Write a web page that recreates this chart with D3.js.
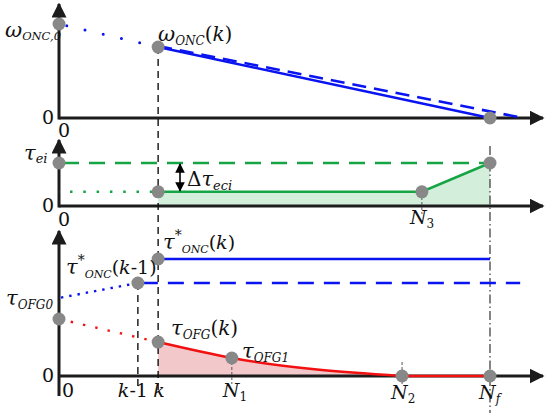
<!DOCTYPE html>
<html><head><meta charset="utf-8">
<script src="https://cdn.jsdelivr.net/npm/d3@7"></script>
<style>
html,body{margin:0;padding:0;background:#fff;}
svg text, svg tspan{font-family:"DejaVu Serif","Liberation Serif","Noto Serif",Georgia,serif;}
</style></head>
<body><svg id="c" width="550" height="413"></svg>
<script>
// ---- data (abstract units: time 0..100 = 0..N_f, values 0..100 per panel) ----
const tK1 = 18.3, tK = 23, tN1 = 40.1, tN2 = 79.6, tN3 = 84.2, tNf = 100;
const xTickLabels = ["0", "k-1", "k", "N1", "N2", "Nf"];
const xTickValues = [0, tK1, tK, tN1, tN2, tNf];

// top panel: omega_ONC
const omegaDotted = [[0, 100], [tK, 75.5]];
const omegaSolid  = [[tK, 75.5], [tNf, 0]];
const omegaDashed = [[tK, 76.6], [107.7, 0]];
const omegaPoints = [[0, 100], [tK, 75.5], [tNf, 0]];

// middle panel: tau_ei / tau_eci
const tauEiDashed  = [[0, 100], [tNf, 100]];
const tauEciDotted = [[0, 33], [tK, 33]];
const tauEciSolid  = [[tK, 33], [tN3, 33], [tNf, 100]];
const tauPoints    = [[0, 100], [tK, 33], [tN3, 33], [tNf, 100]];

// bottom panel: tau*_ONC and tau_OFG
const oncK      = [[tK, 100], [tNf, 100]];
const oncK1     = [[tK1, 79.5], [107, 79.5]];
const oncDotted = [[0, 66.7], [tK1, 79.5]];
const ofgDotted = [[0, 48.7], [tK, 29]];
const ofgCurve  = [[tK, 29], [tN1, 15.4], [tN2, 0]];
const ofgFlat   = [[tN2, 0], [tNf, 0]];
const bottomPoints = [[tK, 100], [tK1, 79.5], [0, 48.7], [tK, 29], [tN1, 15.4], [tN2, 0], [tNf, 0]];

// ---- scales ----
const svg = d3.select("#c");
const x = d3.scaleLinear().domain([0, 100]).range([59, 490]);
const yTop = d3.scaleLinear().domain([0, 100]).range([118, 24]);
const yMid = d3.scaleLinear().domain([0, 100]).range([206, 163]);
const yBot = d3.scaleLinear().domain([0, 100]).range([376, 259]);
const xEnd = 112.3;

const BLUE = "#0a14f0", GREEN = "#16a544", RED = "#f21010";
const AX = "#1c1c1c";

// arrow markers
const defs = svg.append("defs");
defs.append("marker").attr("id", "arr").attr("viewBox", "0 0 10 10")
  .attr("refX", 9).attr("refY", 5).attr("markerWidth", 5).attr("markerHeight", 5)
  .attr("markerUnits", "strokeWidth").attr("orient", "auto")
  .append("path").attr("d", "M0,0 L10,5 L0,10 Z").attr("fill", AX);
defs.append("marker").attr("id", "arrS").attr("viewBox", "0 0 10 10")
  .attr("refX", 9).attr("refY", 5).attr("markerWidth", 6).attr("markerHeight", 6)
  .attr("markerUnits", "strokeWidth").attr("orient", "auto-start-reverse")
  .append("path").attr("d", "M0,0 L10,5 L0,10 Z").attr("fill", "#000");

const lineGen = ys => d3.line().x(d => x(d[0])).y(d => ys(d[1]));
const lTop = lineGen(yTop), lMid = lineGen(yMid), lBot = lineGen(yBot);

// ---- fills ----
svg.append("path")
  .attr("d", d3.area().x(d => x(d[0])).y0(yMid(0)).y1(d => yMid(d[1]))(tauEciSolid))
  .attr("fill", "#d3eedb");
svg.append("path")
  .attr("d", d3.area().x(d => x(d[0])).y0(yBot(0)).y1(d => yBot(d[1])).curve(d3.curveMonotoneX)(ofgCurve))
  .attr("fill", "#f2c8cb");

// ---- axes ----
function axis(ys, yTopPx, yAxisBottom) {
  svg.append("line").attr("x1", x(0)).attr("x2", x(xEnd)).attr("y1", ys(0)).attr("y2", ys(0))
    .attr("stroke", AX).attr("stroke-width", 3).attr("marker-end", "url(#arr)");
  svg.append("line").attr("x1", x(0)).attr("x2", x(0)).attr("y1", yAxisBottom).attr("y2", yTopPx)
    .attr("stroke", AX).attr("stroke-width", 3).attr("marker-end", "url(#arr)");
}
axis(yTop, 4, yTop(0) + 1.5);
axis(yMid, 140, yMid(0) + 1.5);
axis(yBot, 231, 396);

// ---- vertical guide lines ----
svg.append("line").attr("x1", x(tK)).attr("x2", x(tK)).attr("y1", yTop(75.5)).attr("y2", 390)
  .attr("stroke", "#111").attr("stroke-width", 1.4).attr("stroke-dasharray", "7 5");
svg.append("line").attr("x1", x(tK1)).attr("x2", x(tK1)).attr("y1", yBot(79.5)).attr("y2", 388)
  .attr("stroke", "#111").attr("stroke-width", 1.4).attr("stroke-dasharray", "7 5");
svg.append("line").attr("x1", x(tNf)).attr("x2", x(tNf)).attr("y1", 146).attr("y2", 413)
  .attr("stroke", "#444").attr("stroke-width", 1.3).attr("stroke-dasharray", "9 3 1.5 3");
[[tN3, yMid], [tN1, yBot], [tN2, yBot]].forEach(([t, ys]) => {
  svg.append("line").attr("x1", x(t)).attr("x2", x(t)).attr("y1", ys(0) - 14).attr("y2", ys(0) + 8)
    .attr("stroke", "#555").attr("stroke-width", 1).attr("stroke-dasharray", "3 2");
});

// ---- series lines ----
svg.append("path").attr("d", lTop(omegaDotted)).attr("fill", "none").attr("stroke", BLUE)
  .attr("stroke-width", 3).attr("stroke-linecap", "round").attr("stroke-dasharray", "0 18.7").attr("stroke-dashoffset", 10.7);
svg.append("path").attr("d", lTop(omegaSolid)).attr("fill", "none").attr("stroke", BLUE).attr("stroke-width", 2.6);
svg.append("path").attr("d", lTop(omegaDashed)).attr("fill", "none").attr("stroke", BLUE)
  .attr("stroke-width", 2.6).attr("stroke-dasharray", "14 8");

svg.append("path").attr("d", lMid(tauEiDashed)).attr("fill", "none").attr("stroke", GREEN)
  .attr("stroke-width", 2.6).attr("stroke-dasharray", "16 10").attr("stroke-dashoffset", -4);
svg.append("path").attr("d", lMid(tauEciDotted)).attr("fill", "none").attr("stroke", GREEN)
  .attr("stroke-width", 2.6).attr("stroke-dasharray", "2.5 10.8").attr("stroke-dashoffset", -11);
svg.append("path").attr("d", lMid(tauEciSolid)).attr("fill", "none").attr("stroke", GREEN).attr("stroke-width", 2.6);

svg.append("path").attr("d", lBot(oncK)).attr("fill", "none").attr("stroke", BLUE).attr("stroke-width", 2.6);
svg.append("path").attr("d", lBot(oncK1)).attr("fill", "none").attr("stroke", BLUE)
  .attr("stroke-width", 2.6).attr("stroke-dasharray", "16 10").attr("stroke-dashoffset", -4);
svg.append("path").attr("d", lBot(oncDotted)).attr("fill", "none").attr("stroke", BLUE)
  .attr("stroke-width", 2.4).attr("stroke-dasharray", "2.4 6").attr("stroke-dashoffset", -2);
svg.append("path").attr("d", lBot(ofgDotted)).attr("fill", "none").attr("stroke", RED)
  .attr("stroke-width", 2.4).attr("stroke-dasharray", "2.4 10.2").attr("stroke-dashoffset", -12);
svg.append("path").attr("d", lineGen(yBot).curve(d3.curveMonotoneX)(ofgCurve)).attr("fill", "none")
  .attr("stroke", RED).attr("stroke-width", 2.6);
svg.append("path").attr("d", lBot(ofgFlat)).attr("fill", "none").attr("stroke", RED).attr("stroke-width", 2.6);

// Delta arrow
svg.append("line").attr("x1", 180).attr("x2", 180).attr("y1", yMid(100) + 1).attr("y2", yMid(33) - 1)
  .attr("stroke", "#000").attr("stroke-width", 1.6).attr("marker-end", "url(#arrS)").attr("marker-start", "url(#arrS)");

// ---- points ----
[[omegaPoints, yTop], [tauPoints, yMid], [bottomPoints, yBot]].forEach(([arr, ys]) => {
  svg.selectAll(null).data(arr).enter().append("circle")
    .attr("cx", d => x(d[0])).attr("cy", d => ys(d[1])).attr("r", 6.5).attr("fill", "#888");
});

// ---- labels ----
function label(px, py, parts) {
  const t = svg.append("text").attr("x", px).attr("y", py).attr("fill", "#111");
  parts.forEach(p => {
    const s = t.append("tspan").text(p.t).attr("font-size", p.s || 20)
      .attr("font-style", p.i === false ? "normal" : "italic");
    if (p.dy) s.attr("dy", p.dy);
    if (p.dx) s.attr("dx", p.dx);
  });
  return t;
}
function plain(px, py, str, anchor) {
  svg.append("text").attr("x", px).attr("y", py).attr("text-anchor", anchor || "start")
    .attr("font-size", 19).attr("fill", "#111").text(str);
}
[yTop, yMid, yBot].forEach(ys => plain(54, ys(0) + 6, "0", "end"));
plain(58, yTop(0) + 19, xTickLabels[0]);
plain(58, yMid(0) + 20, xTickLabels[0]);

const bx = 397;
plain(x(xTickValues[0]) + 3, bx, xTickLabels[0]);
label(x(xTickValues[1]) - 20, bx, [{t: "k", s: 19}, {t: "-1", s: 19, i: false}]);
label(x(xTickValues[2]) - 5, bx, [{t: "k", s: 19}]);
label(x(xTickValues[3]) - 9, bx, [{t: "N", s: 19}, {t: "1", s: 12, i: false, dy: 4}]);
label(x(xTickValues[4]) - 11, bx + 2, [{t: "N", s: 19}, {t: "2", s: 12, i: false, dy: 4}]);
label(x(xTickValues[5]) - 11, bx + 2, [{t: "N", s: 19}, {t: "f", s: 12, dy: 4}]);
label(x(tN3) - 12, 224, [{t: "N", s: 19}, {t: "3", s: 12, i: false, dy: 4}]);

label(5, 37, [{t: "ω", s: 21}, {t: "ONC,0", s: 11.5, dy: 3}]);
label(158, 41, [{t: "ω", s: 21}, {t: "ONC", s: 12, dy: 4}, {t: "(", s: 20, i: false, dy: -4}, {t: "k", s: 20}, {t: ")", s: 20, i: false}]);
label(24, 160, [{t: "τ", s: 21}, {t: "ei", s: 13, dy: 3}]);
label(187, 186, [{t: "Δ", s: 20, i: false}, {t: "τ", s: 21}, {t: "eci", s: 13, dy: 4}]);

label(163, 249, [{t: "τ", s: 21}, {t: "*", s: 14, i: false, dy: -9}, {t: "ONC", s: 11, dy: 13}, {t: "(", s: 19, i: false, dy: -4}, {t: "k", s: 19}, {t: ")", s: 19, i: false}]);
label(66, 274, [{t: "τ", s: 21}, {t: "*", s: 14, i: false, dy: -9}, {t: "ONC", s: 11, dy: 13}, {t: "(", s: 19, i: false, dy: -4}, {t: "k", s: 19}, {t: "-1)", s: 19, i: false}]);
label(6, 305, [{t: "τ", s: 21}, {t: "OFG0", s: 12, dy: 4}]);
label(171, 335, [{t: "τ", s: 21}, {t: "OFG", s: 12, dy: 4}, {t: "(", s: 20, i: false, dy: -4}, {t: "k", s: 20}, {t: ")", s: 20, i: false}]);
label(242, 358, [{t: "τ", s: 21}, {t: "OFG1", s: 12, dy: 4}]);
</script></body></html>
